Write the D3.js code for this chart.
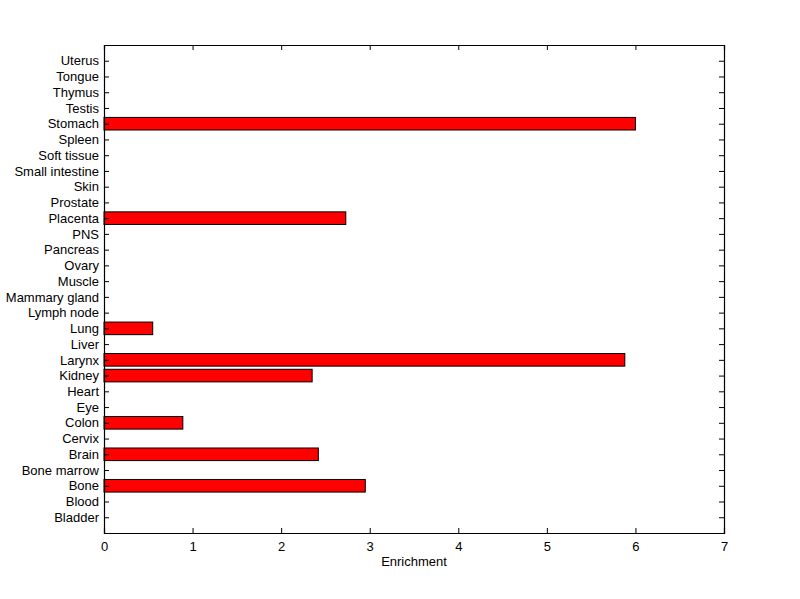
<!DOCTYPE html>
<html>
<head>
<meta charset="utf-8">
<script src="https://cdn.jsdelivr.net/npm/d3@7"></script>
<style>
  body { margin: 0; background: #fff; }
  text { font-family: "Liberation Sans", Arial, sans-serif; font-size: 13px; fill: #000; }
</style>
</head>
<body>
<div id="chart"></div>
<script>
// tissues, bottom to top
var tissues = ["Bladder", "Blood", "Bone", "Bone marrow", "Brain", "Cervix", "Colon", "Eye",
    "Heart", "Kidney", "Larynx", "Liver", "Lung", "Lymph node", "Mammary gland", "Muscle",
    "Ovary", "Pancreas", "PNS", "Placenta", "Prostate", "Skin", "Small intestine",
    "Soft tissue", "Spleen", "Stomach", "Testis", "Thymus", "Tongue", "Uterus"];
var enrichment = [0, 0, 2.95, 0, 2.42, 0, 0.89, 0,
    0, 2.35, 5.88, 0, 0.55, 0, 0, 0,
    0, 0, 0, 2.73, 0, 0, 0,
    0, 0, 6.0, 0, 0, 0, 0];
var xTicks = [0, 1, 2, 3, 4, 5, 6, 7];

const margin = { top: 45, right: 76, bottom: 66, left: 104 },
    width = 800 - margin.left - margin.right,
    height = 599 - margin.top - margin.bottom;

var svg = d3.select("#chart")
    .append("svg")
    .attr("width", 800)
    .attr("height", 599)
    .append("g")
    .attr("transform", `translate(${margin.left}, ${margin.top})`);

var x = d3.scaleLinear().domain([0, 7]).range([0, width]);
// matlab style: categories at 1..n, axis 0..n+1
var y = d3.scaleLinear().domain([0, tissues.length + 1]).range([height, 0]);
var barH = (y(0) - y(0.8));

var data = tissues.map((t, i) => ({ tissue: t, pos: i + 1, value: enrichment[i] }));

// bars
svg.selectAll("rect.bar")
    .data(data.filter(d => d.value > 0))
    .enter()
    .append("rect")
    .attr("class", "bar")
    .attr("x", x(0))
    .attr("y", d => y(d.pos) - barH / 2)
    .attr("width", d => x(d.value) - x(0))
    .attr("height", barH)
    .attr("fill", "#ff0000")
    .attr("stroke", "#000")
    .attr("stroke-width", 1);

// bottom axis, ticks inside
var axBottom = svg.append("g")
    .attr("transform", `translate(0, ${height})`)
    .call(d3.axisBottom(x).tickValues(xTicks).tickSize(-5).tickPadding(9).tickFormat(d3.format("d")));
// top axis, ticks inside, no labels
var axTop = svg.append("g")
    .call(d3.axisTop(x).tickValues(xTicks).tickSize(-5).tickFormat(""));
// left axis with tissue names
var axLeft = svg.append("g")
    .call(d3.axisLeft(y).tickValues(data.map(d => d.pos)).tickSize(-5).tickPadding(5)
        .tickFormat((d, i) => tissues[i]));
// right axis
var axRight = svg.append("g")
    .attr("transform", `translate(${width}, 0)`)
    .call(d3.axisRight(y).tickValues(data.map(d => d.pos)).tickSize(-5).tickFormat(""));

[axBottom, axTop, axLeft, axRight].forEach(function (g) {
    g.select(".domain").attr("stroke", "#000").attr("stroke-width", 1.2);
    g.selectAll(".tick line").attr("stroke", "#000");
    g.selectAll("text").style("font-size", "13px").attr("fill", "#000")
        .style("font-family", "'Liberation Sans', Arial, sans-serif");
});

// x label
svg.append("text")
    .attr("text-anchor", "middle")
    .attr("x", width / 2)
    .attr("y", height + 33)
    .text("Enrichment");
</script>
</body>
</html>
